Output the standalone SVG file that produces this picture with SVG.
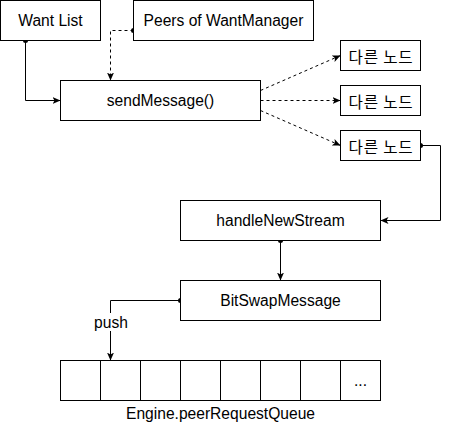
<svg xmlns="http://www.w3.org/2000/svg" width="450" height="426" viewBox="0 0 450 426">
<style>
.box{fill:#fff;stroke:#000;stroke-width:1}
.t{font-family:"Liberation Sans",Arial,Helvetica,sans-serif;font-size:15.6px;fill:#000;text-anchor:middle;dominant-baseline:central}
.k{font-family:"Noto Sans CJK KR","Liberation Sans",sans-serif;font-size:15.6px;letter-spacing:0.8px;fill:#000;text-anchor:middle;dominant-baseline:central}
.c{fill:none;stroke:#000;stroke-width:1}
.d{stroke-dasharray:3 3}
</style>
<defs>
<marker id="arr" markerWidth="9" markerHeight="9" refX="8" refY="4" orient="auto" markerUnits="userSpaceOnUse"><path d="M0,0.5 L8,4 L0,7.5 L2,4 Z" fill="#000"/></marker>
<marker id="dot" markerWidth="6" markerHeight="6" refX="3" refY="3" markerUnits="userSpaceOnUse"><circle cx="3" cy="3" r="2.5" fill="#000"/></marker>
</defs>
<rect x="0" y="0" width="450" height="426" fill="#fff"/>
<g id="connectors">
<path class="c" d="M25.5 40.5 V100.5 H60.5" marker-start="url(#dot)" marker-end="url(#arr)"/>
<path class="c d" d="M133.5 30.5 H110.5 V80.5" marker-start="url(#dot)" marker-end="url(#arr)"/>
<path class="c d" d="M260.5 90.5 L340.5 55.5" marker-end="url(#arr)"/>
<path class="c d" d="M260.5 100.5 L340.5 100.5" marker-end="url(#arr)"/>
<path class="c d" d="M260.5 110.5 L340.5 145.5" marker-end="url(#arr)"/>
<path class="c" d="M420.5 145.5 H440.5 V220.5 H380.5" marker-start="url(#dot)" marker-end="url(#arr)"/>
<path class="c" d="M280.5 240.5 V280.5" marker-start="url(#dot)" marker-end="url(#arr)"/>
<path class="c" d="M180.5 300.5 H110.5 V360.5" marker-start="url(#dot)" marker-end="url(#arr)"/>
<rect x="93" y="313" width="36" height="18" fill="#fff"/>
<text class="t" x="111" y="322">push</text>
</g>
<g id="wantlist"><rect class="box" x="0.5" y="0.5" width="100" height="40"/><text class="t" x="50.5" y="20.5">Want List</text></g>
<g id="peers"><rect class="box" x="133.5" y="0.5" width="180" height="40"/><text class="t" x="223.5" y="20.5">Peers of WantManager</text></g>
<g id="sendmessage"><rect class="box" x="60.5" y="80.5" width="200" height="40"/><text class="t" x="160.5" y="100.5">sendMessage()</text></g>
<g id="node1"><rect class="box" x="340.5" y="40.5" width="80" height="30"/><text class="k" x="381" y="55.5">다른 노드</text></g>
<g id="node2"><rect class="box" x="340.5" y="85.5" width="80" height="30"/><text class="k" x="381" y="100.5">다른 노드</text></g>
<g id="node3"><rect class="box" x="340.5" y="130.5" width="80" height="30"/><text class="k" x="381" y="145.5">다른 노드</text></g>
<g id="handlenewstream"><rect class="box" x="180.5" y="200.5" width="200" height="40"/><text class="t" x="280.5" y="220.5">handleNewStream</text></g>
<g id="bitswapmessage"><rect class="box" x="180.5" y="280.5" width="200" height="40"/><text class="t" x="280.5" y="300.5">BitSwapMessage</text></g>
<g id="queue">
<rect class="box" x="60.5" y="360.5" width="40" height="40"/>
<rect class="box" x="100.5" y="360.5" width="40" height="40"/>
<rect class="box" x="140.5" y="360.5" width="40" height="40"/>
<rect class="box" x="180.5" y="360.5" width="40" height="40"/>
<rect class="box" x="220.5" y="360.5" width="40" height="40"/>
<rect class="box" x="260.5" y="360.5" width="40" height="40"/>
<rect class="box" x="300.5" y="360.5" width="40" height="40"/>
<rect class="box" x="340.5" y="360.5" width="40" height="40"/>
<text class="t" x="360.5" y="380.5">...</text>
<text class="t" x="220.5" y="413">Engine.peerRequestQueue</text>
</g>
</svg>
